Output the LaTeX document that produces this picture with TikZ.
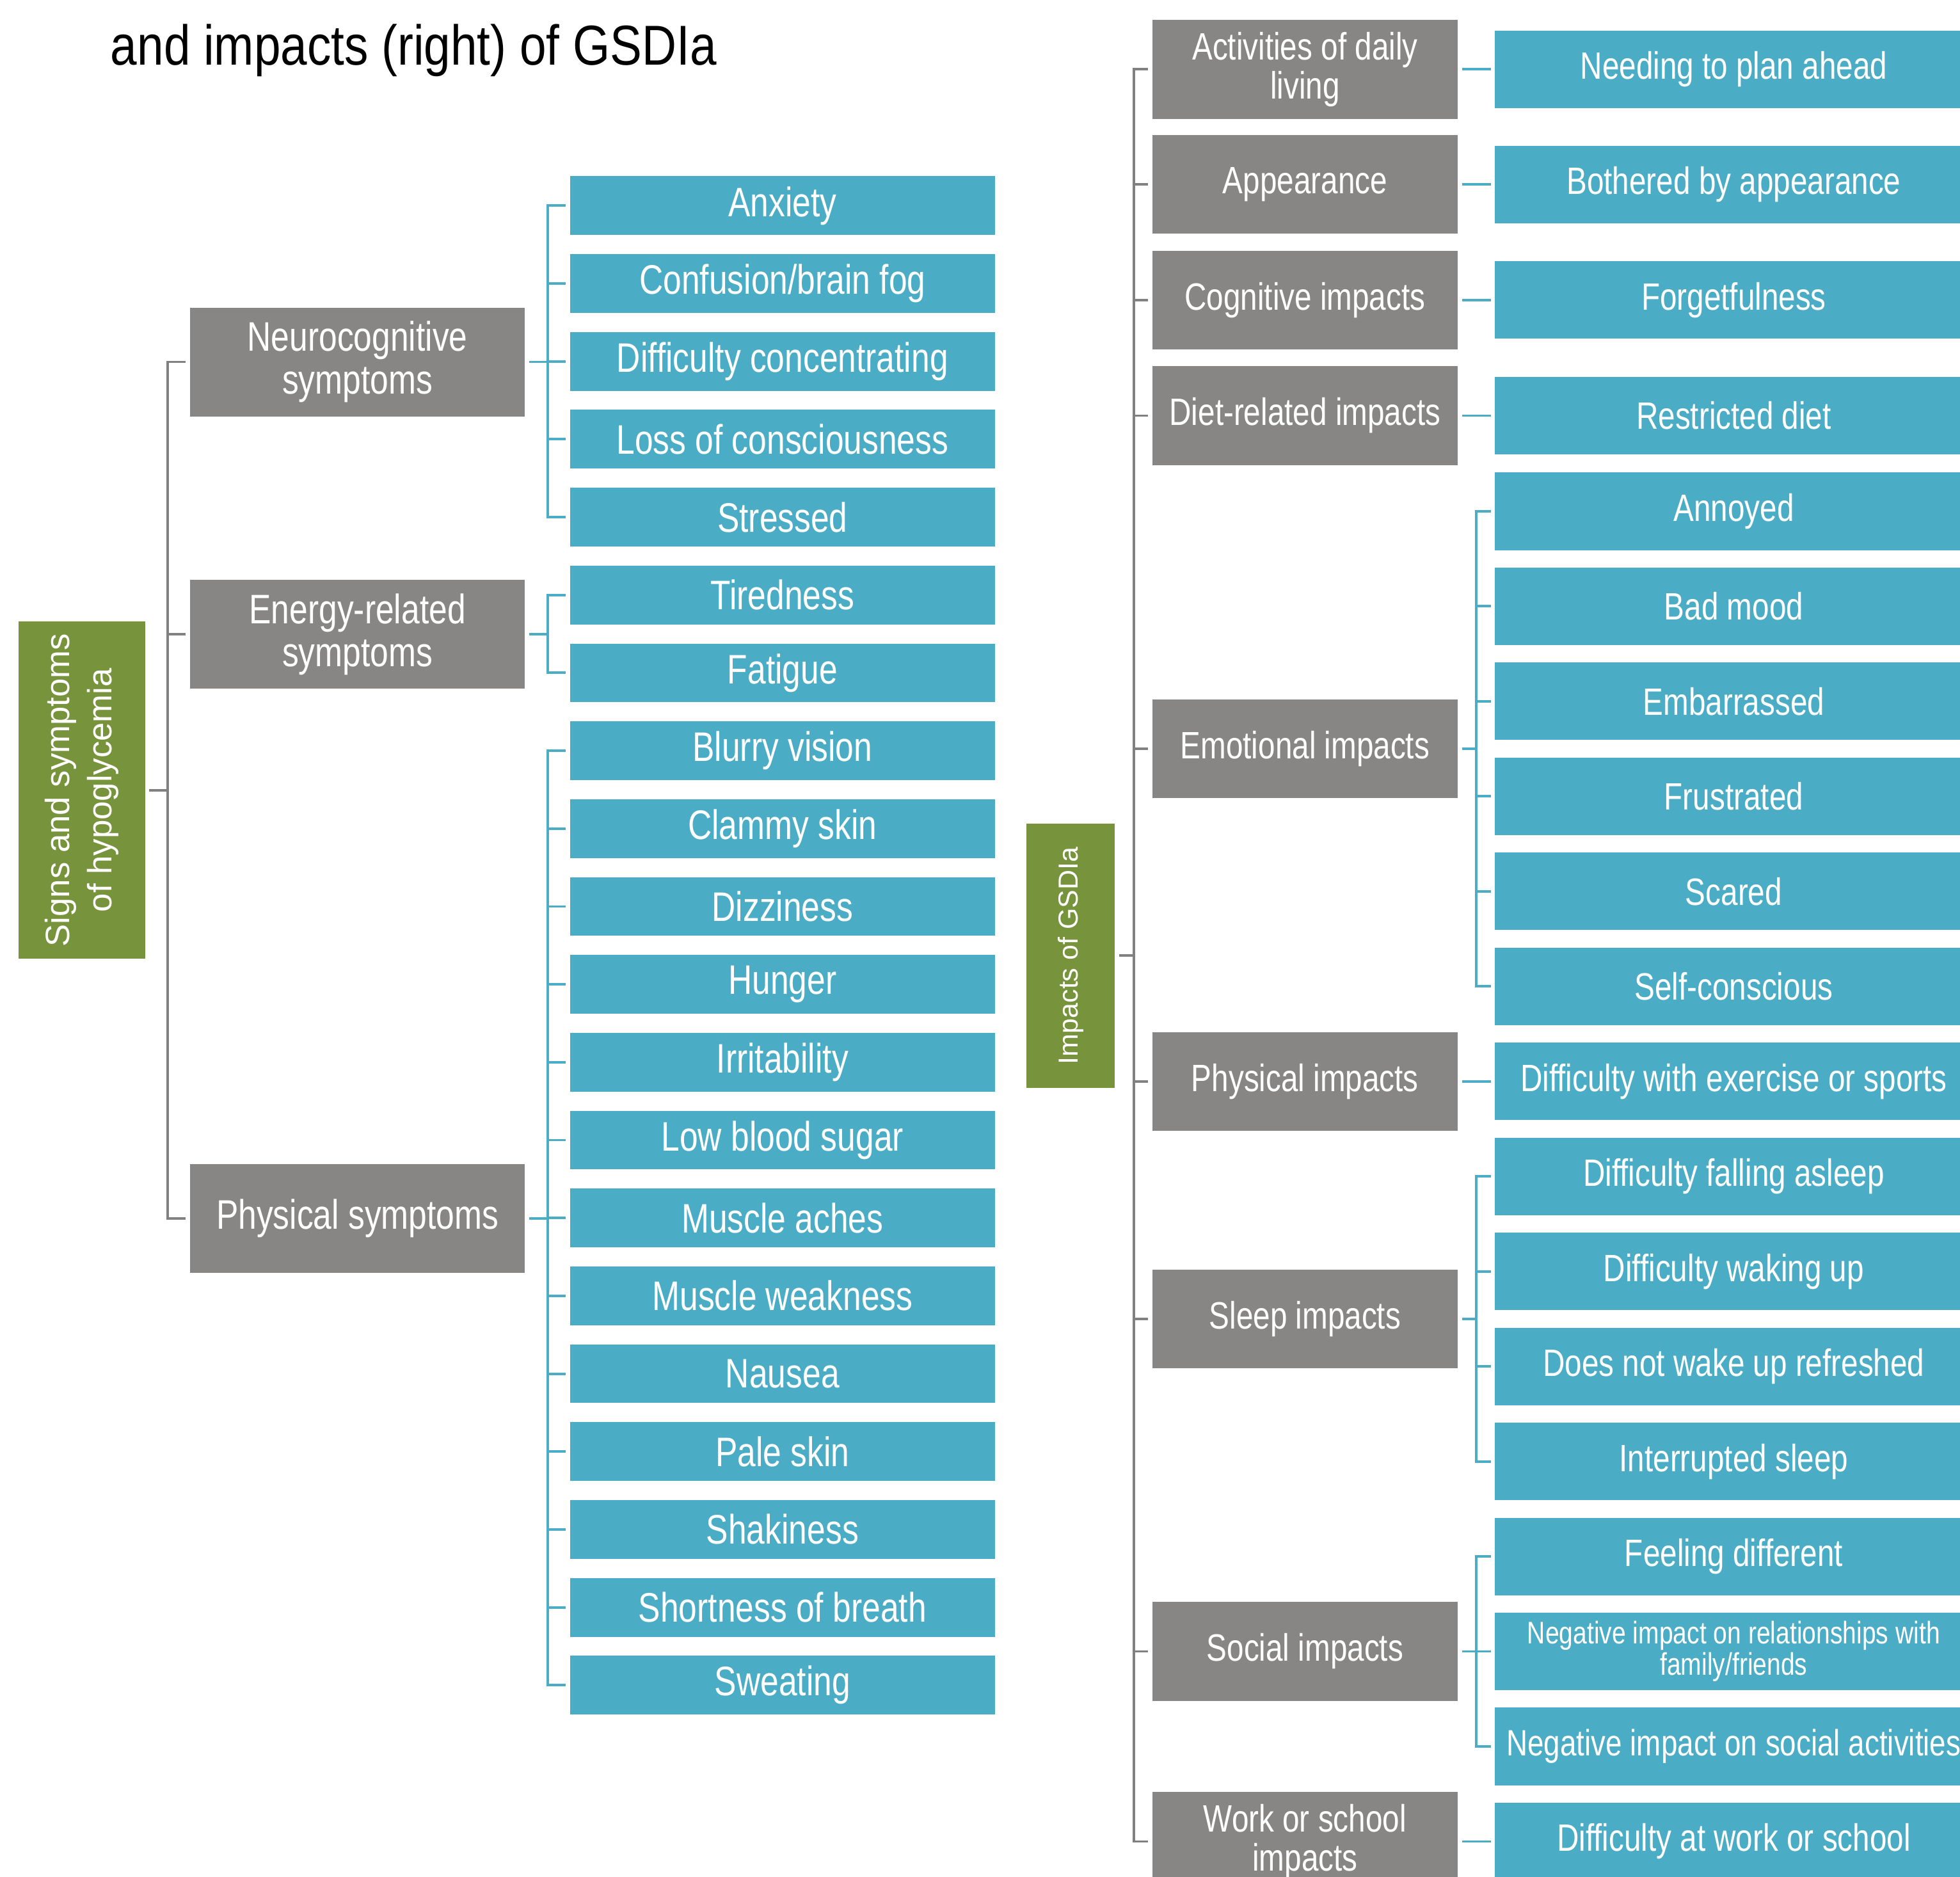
\documentclass[tikz,border=0pt]{standalone}
\usepackage{fontspec}
\setmainfont{Liberation Sans}[FakeStretch=0.8]
\newfontfamily\titlefont{Liberation Sans}[FakeStretch=0.85]
\newfontfamily\widefont{Liberation Sans}
\definecolor{hgreen}{RGB}{119,147,60}
\definecolor{hgray}{RGB}{135,134,132}
\definecolor{hblue}{RGB}{75,172,198}
\definecolor{hline}{RGB}{128,128,128}

\begin{document}
\begin{tikzpicture}[x=1pt,y=-1pt,
  root/.style={fill=hgreen,text=white,inner sep=0pt,outer sep=3.5pt},
  grp/.style={fill=hgray,text=white,inner sep=0pt,outer sep=3.5pt,align=center},
  leaf/.style={fill=hblue,text=white,inner sep=0pt,outer sep=3.5pt,align=center},
  lgrp/.style={grp,minimum width=268pt,minimum height=87pt,font=\fontsize{33}{34}\selectfont},
  lleaf/.style={leaf,minimum width=340pt,minimum height=47pt,font=\fontsize{33}{34}\selectfont},
  rgrp/.style={grp,minimum width=244pt,minimum height=79pt,font=\fontsize{30.5}{31}\selectfont},
  rleaf/.style={leaf,minimum width=382pt,minimum height=62pt,font=\fontsize{30.5}{31}\selectfont},
  trunk/.style={draw=hline,line width=2pt},
  twig/.style={draw=hblue,line width=2pt}]
\useasboundingbox (0,0) rectangle (1568,1501);
\clip (0,0) rectangle (1568,1501);

\node[anchor=base west,font=\titlefont\fontsize{45}{45}\selectfont] (title) at (85,52) {and impacts (right) of GSDIa};

% left tree: signs and symptoms
\node[root,minimum width=101pt,minimum height=270pt,font=\widefont\fontsize{27}{34}\selectfont] (signs) at (65.5,632)
  {\rotatebox{90}{\begin{tabular}{@{}c@{}}Signs and symptoms\\of hypoglycemia\end{tabular}}};
\node[lgrp] (neuro) at (286,289.5) {Neurocognitive\\symptoms};
\node[lgrp] (energy) at (286,507.5) {Energy-related\\symptoms};
\node[lgrp] (phys) at (286,974.5) {Physical symptoms};

\foreach \t [count=\i from 0] in {Anxiety,Confusion/brain fog,Difficulty concentrating,
    Loss of consciousness,Stressed,Tiredness,Fatigue,Blurry vision,Clammy skin,Dizziness,
    Hunger,Irritability,Low blood sugar,Muscle aches,Muscle weakness,Nausea,Pale skin,
    Shakiness,Shortness of breath,Sweating}
  \node[lleaf] (s\i) at (626,164.5+62.29*\i) {\t};

\foreach \g in {neuro,energy,phys}
  \draw[trunk] (signs.east) -- ++(14.5,0) |- (\g.west);
\foreach \i in {0,...,4}
  \draw[twig] (neuro.east) -- ++(14.5,0) |- (s\i.west);
\foreach \i in {5,6}
  \draw[twig] (energy.east) -- ++(14.5,0) |- (s\i.west);
\foreach \i in {7,...,19}
  \draw[twig] (phys.east) -- ++(14.5,0) |- (s\i.west);

% right tree: impacts
\node[root,minimum width=71pt,minimum height=211pt,font=\widefont\fontsize{22}{26}\selectfont] (impacts) at (856.5,764.5)
  {\rotatebox{90}{Impacts of GSDIa}};
\foreach \n/\y/\t in {adl/55.5/{Activities of daily\\living},app/147.5/Appearance,cog/240/Cognitive impacts,
    dietg/332.5/Diet-related impacts,emo/599/Emotional impacts,physi/865/Physical impacts,
    sleep/1055/Sleep impacts,soc/1321/Social impacts,workg/1473/{Work or school\\impacts}}
  \node[rgrp] (\n) at (1044,\y) {\t};

\foreach \n/\y/\t in {plan/55.5/Needing to plan ahead,appear/147.5/Bothered by appearance,
    forget/240/Forgetfulness,diet/332.5/Restricted diet,annoy/409/Annoyed,mood/485/Bad mood,
    embar/561/Embarrassed,frust/637/Frustrated,scared/713/Scared,selfc/789/Self-conscious,
    exer/865/Difficulty with exercise or sports,fallas/941/Difficulty falling asleep,
    wake/1017/Difficulty waking up,refresh/1093/Does not wake up refreshed,
    interr/1169/Interrupted sleep,differ/1245/Feeling different,work/1473/Difficulty at work or school}
  \node[rleaf] (\n) at (1387,\y) {\t};
\node[rleaf,font=\fontsize{25}{25}\selectfont] (relat) at (1387,1321)
  {Negative impact on relationships with\\family/friends};
\node[rleaf,font=\fontsize{29.3}{30}\selectfont] (social) at (1387,1397)
  {Negative impact on social activities};

\foreach \g in {adl,app,cog,dietg,emo,physi,sleep,soc,workg}
  \draw[trunk] (impacts.east) -- ++(11.5,0) |- (\g.west);
\foreach \a/\b in {adl/plan,app/appear,cog/forget,dietg/diet,physi/exer,workg/work}
  \draw[twig] (\a.east) -- (\b.west);
\foreach \b in {annoy,mood,embar,frust,scared,selfc}
  \draw[twig] (emo.east) -- ++(11.5,0) |- (\b.west);
\foreach \b in {fallas,wake,refresh,interr}
  \draw[twig] (sleep.east) -- ++(11.5,0) |- (\b.west);
\foreach \b in {differ,relat,social}
  \draw[twig] (soc.east) -- ++(11.5,0) |- (\b.west);
\end{tikzpicture}
\end{document}
